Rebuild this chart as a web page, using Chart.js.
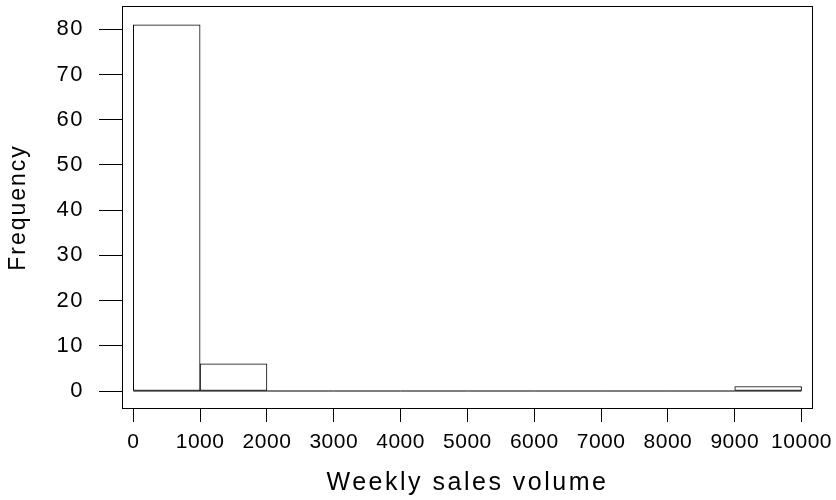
<!DOCTYPE html>
<html>
<head>
<meta charset="utf-8">
<script src="https://cdn.jsdelivr.net/npm/chart.js@4"></script>
<style>
  html, body { margin: 0; padding: 0; background: #fff; }
  #wrap { width: 836px; height: 500px; position: relative; }
</style>
</head>
<body>
<div id="wrap"><canvas id="c"></canvas></div>
<script>
// ---- data ----
const binEdges = [0, 1000, 2000, 3000, 4000, 5000, 6000, 7000, 8000, 9000, 10000];
const binCounts = [81, 6, 0, 0, 0, 0, 0, 0, 0, 1];
const xTickValues = [0, 1000, 2000, 3000, 4000, 5000, 6000, 7000, 8000, 9000, 10000];
const yTickValues = [0, 10, 20, 30, 40, 50, 60, 70, 80];
const xTitle = 'Weekly sales volume';
const yTitle = 'Frequency';

const FONT = '"Liberation Sans", Arial, Helvetica, sans-serif';

const barData = binCounts.map((c, i) => ({ x: (binEdges[i] + binEdges[i + 1]) / 2, y: c }));
const baseData = binEdges.map(e => ({ x: e, y: 0 }));

function spacedDraw(scale, labelSpacing, titleSpacing) {
  if (scale._spaced) return;
  scale._spaced = true;
  const ctx = scale.ctx;
  const origLabels = scale.drawLabels;
  const origTitle = scale.drawTitle;
  scale.drawLabels = function (area) {
    ctx.save();
    ctx.letterSpacing = labelSpacing + 'px';
    origLabels.call(this, area);
    ctx.restore();
  };
  scale.drawTitle = function () {
    ctx.save();
    ctx.letterSpacing = titleSpacing + 'px';
    origTitle.call(this);
    ctx.restore();
  };
}

const boxPlugin = {
  id: 'box',
  afterDraw(chart) {
    const { ctx, chartArea: a } = chart;
    ctx.save();
    ctx.strokeStyle = '#000';
    ctx.lineWidth = 1;
    const l = Math.round(a.left) + 0.5, t = Math.round(a.top) + 0.5;
    const r = Math.round(a.right) - 0.5, b = Math.round(a.bottom) - 0.5;
    ctx.strokeRect(l, t, r - l, b - t);
    ctx.restore();
  }
};

new Chart(document.getElementById('c'), {
  type: 'bar',
  data: {
    datasets: [
      {
        type: 'bar',
        data: barData,
        backgroundColor: '#ffffff',
        borderColor: '#000000',
        borderWidth: 1,
        borderSkipped: false,
        barPercentage: 1,
        categoryPercentage: 1
      },
      {
        type: 'line',
        data: baseData,
        borderColor: '#000000',
        borderWidth: 1,
        pointRadius: 0,
        fill: false
      }
    ]
  },
  options: {
    responsive: true,
    maintainAspectRatio: false,
    animation: false,
    layout: { padding: { top: 6, right: 23, left: 0, bottom: 0 } },
    plugins: { legend: { display: false }, tooltip: { enabled: false } },
    scales: {
      x: {
        type: 'linear',
        offset: false,
        min: -169,
        max: 10171,
        afterBuildTicks: s => { s.ticks = xTickValues.map(v => ({ value: v })); },
        afterFit: s => {
          s.height = 91; s.paddingLeft = 0; s.paddingRight = 0;
          spacedDraw(s, 0.5, 2.5);
        },
        grid: { offset: false, drawOnChartArea: false, drawTicks: true, tickLength: 13, color: '#000', lineWidth: 1 },
        border: { display: false },
        ticks: {
          color: '#000',
          padding: 8,
          maxRotation: 0,
          minRotation: 0,
          autoSkip: false,
          font: { family: FONT, size: 21 },
          callback: v => String(v)
        },
        title: {
          display: true,
          text: xTitle,
          color: '#000',
          font: { family: FONT, size: 25 },
          padding: { top: 0, bottom: 2 }
        }
      },
      y: {
        type: 'linear',
        offset: false,
        min: -3.98,
        max: 85.16,
        afterBuildTicks: s => { s.ticks = yTickValues.map(v => ({ value: v })); },
        afterFit: s => {
          s.width = 122; s.paddingTop = 0; s.paddingBottom = 0;
          spacedDraw(s, 1.5, 2);
        },
        grid: { offset: false, drawOnChartArea: false, drawTicks: true, tickLength: 23, color: '#000', lineWidth: 1 },
        border: { display: false },
        ticks: {
          color: '#000',
          padding: 15,
          autoSkip: false,
          font: { family: FONT, size: 22 },
          callback: v => String(v)
        },
        title: {
          display: true,
          text: yTitle,
          color: '#000',
          font: { family: FONT, size: 23 },
          padding: { top: 5, bottom: 0 }
        }
      }
    }
  },
  plugins: [boxPlugin]
});
</script>
</body>
</html>
